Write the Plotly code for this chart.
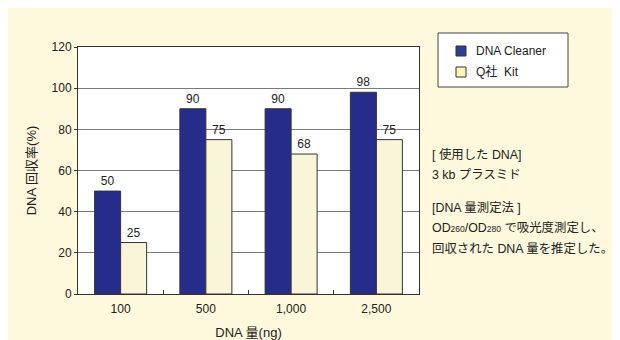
import plotly.graph_objects as go

categories = ["100", "500", "1,000", "2,500"]
dna_cleaner = [50, 90, 90, 98]
q_kit = [25, 75, 68, 75]
series_names = ["DNA Cleaner", "Q社  Kit"]
series_colors = ["#262C8A", "#F8F5D8"]
legend_colors = ["#2B3F96", "#FFF3B5"]
y_ticks = [0, 20, 40, 60, 80, 100, 120]

LAT = "Liberation Sans, Noto Sans CJK JP, sans-serif"

# plot area in window pixels (page has an 8px body margin)
PX0, PX1, PY0, PY1 = 78, 419, 47, 294


def px(x):
    return (x - PX0) / (PX1 - PX0)


def py(y):
    return (PY1 - y) / (PY1 - PY0)


fig = go.Figure()
for name, vals, col in [(series_names[0], dna_cleaner, series_colors[0]),
                        (series_names[1], q_kit, series_colors[1])]:
    fig.add_trace(go.Bar(
        x=categories, y=vals, name=name,
        marker=dict(color=col, line=dict(color="#333333", width=1)),
        text=[str(v) for v in vals], textposition="outside",
        textfont=dict(family=LAT, size=12, color="#222222"),
        cliponaxis=False, showlegend=False,
    ))

# manual legend box
fig.add_shape(type="rect", xref="paper", yref="paper", x0=px(438), x1=px(568),
              y0=py(87), y1=py(33), fillcolor="#FFFFFF", line=dict(color="#444444", width=1))
for i, (name, col) in enumerate(zip(series_names, legend_colors)):
    yc = 51 + 21 * i
    fig.add_shape(type="rect", xref="paper", yref="paper", x0=px(456), x1=px(466),
                  y0=py(yc + 5), y1=py(yc - 5), fillcolor=col, line=dict(color="#333333", width=1))
    fig.add_annotation(xref="paper", yref="paper", x=px(474), y=py(yc), xanchor="left",
                       yanchor="middle", showarrow=False, text=name,
                       font=dict(family=LAT, size=12, color="#222222"))

notes = [
    ("[ 使用した DNA]", 154),
    ("3 kb プラスミド", 175),
    ("[DNA 量測定法 ]", 208),
    ("OD<span style='font-size:8.5px'>260</span>/OD<span style='font-size:8.5px'>280</span> で吸光度測定し、", 228),
    ("回収された DNA 量を推定した。", 248),
]
for txt, ypix in notes:
    fig.add_annotation(
        xref="paper", yref="paper", x=px(430), y=py(ypix),
        xanchor="left", yanchor="middle", showarrow=False, text=txt,
        font=dict(family=LAT, size=12.4, color="#222222"),
    )

fig.update_layout(
    width=620, height=340,
    margin=dict(l=PX0 - 8, r=620 - (PX1 - 8), t=PY0 - 8, b=340 - (PY1 - 8), autoexpand=False),
    paper_bgcolor="#FEF9DC", plot_bgcolor="#FFFFFF",
    barmode="group", bargap=0.39, bargroupgap=0,
    font=dict(family=LAT, size=11, color="#222222"),
    showlegend=False,
    xaxis=dict(
        showline=True, linecolor="#333333", linewidth=1, mirror=True,
        ticks="inside", tickson="boundaries", ticklen=4, tickcolor="#333333",
        ticklabelstandoff=4,
        tickfont=dict(family=LAT, size=12, color="#222222"),
        title=dict(text="DNA 量(ng)", font=dict(family=LAT, size=13, color="#222222"), standoff=12),
    ),
    yaxis=dict(
        range=[0, 120], tickvals=y_ticks, showgrid=True, gridcolor="#7A7A7A", gridwidth=1,
        showline=True, linecolor="#333333", linewidth=1, mirror=True,
        ticks="outside", ticklen=3, tickcolor="#333333", zeroline=False,
        tickfont=dict(family=LAT, size=12, color="#222222"),
        title=dict(text="DNA 回収率(%)", font=dict(family=LAT, size=13, color="#222222"), standoff=12),
    ),
)

fig.write_html("out.html")
